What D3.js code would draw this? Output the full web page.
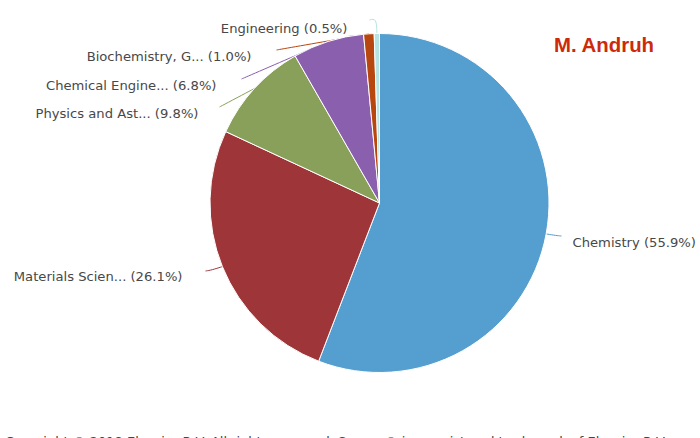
<!DOCTYPE html>
<html>
<head>
<meta charset="utf-8">
<script src="https://cdn.jsdelivr.net/npm/d3@7"></script>
<style>
  html, body { margin: 0; padding: 0; background: #fff; overflow: hidden; }
  text { font-family: "DejaVu Sans", sans-serif; }
</style>
</head>
<body>
<script>
const categories = ['Chemistry', 'Materials Scien...', 'Physics and Ast...', 'Chemical Engine...', 'Biochemistry, G...', 'Engineering'];
const shares = [55.9, 26.1, 9.8, 6.8, 1.0, 0.5];
const colors = ['#559ed0', '#9e3639', '#88a05a', '#8a5fae', '#b7470f', '#b6e3e3'];
const author = 'M. Andruh';
const copyright = 'Copyright © 2018 Elsevier B.V. All rights reserved. Scopus® is a registered trademark of Elsevier B.V.';

const width = 700, height = 438;
const cx = 379.5, cy = 203, radius = 169.5;

// where each connector ends, relative to the pie centre
const leaderEnds = [[182, 33], [-174, 68], [-160, -96], [-138, -124], [-103, -153], [-10, -183]];
// how far each connector first runs straight out of the pie before turning
const leaderBends = [0.3, 0.3, 0, 0, 0, 1];
// label offset from the connector end
const labelGaps = [[11, 6], [-23, 5], [-21, 6], [-25, 6], [-25, 6], [-22, 8]];

const svg = d3.select('body').append('svg')
  .attr('width', width)
  .attr('height', height);

const g = svg.append('g').attr('transform', `translate(${cx},${cy})`);

const slices = d3.pie().sort(null)(shares);
const arc = d3.arc().innerRadius(0).outerRadius(radius);

// connectors go first, the pie covers the part that runs across it
const leader = d3.line().curve(d3.curveBasis);
g.selectAll('path.leader')
  .data(slices)
  .join('path')
  .attr('class', 'leader')
  .attr('fill', 'none')
  .attr('stroke', (d, i) => colors[i])
  .attr('stroke-width', 1)
  .attr('d', (d, i) => {
    const mid = (d.startAngle + d.endAngle) / 2;
    const start = [radius * Math.sin(mid), -radius * Math.cos(mid)];
    const end = leaderEnds[i];
    const reach = Math.hypot(end[0] - start[0], end[1] - start[1]);
    const k = leaderBends[i];
    const out = [start[0] + Math.sin(mid) * reach, start[1] - Math.cos(mid) * reach];
    const straight = [(start[0] + end[0]) / 2, (start[1] + end[1]) / 2];
    const bend = [straight[0] + (out[0] - straight[0]) * k, straight[1] + (out[1] - straight[1]) * k];
    return leader([start, start, bend, end, end]);
  });

g.selectAll('path.slice')
  .data(slices)
  .join('path')
  .attr('class', 'slice')
  .attr('fill', (d, i) => colors[i])
  .attr('stroke', '#fff')
  .attr('stroke-width', 1)
  .attr('d', arc);

g.selectAll('text.label')
  .data(slices)
  .join('text')
  .attr('class', 'label')
  .attr('x', (d, i) => leaderEnds[i][0] + labelGaps[i][0])
  .attr('y', (d, i) => leaderEnds[i][1] + labelGaps[i][1])
  .attr('dy', '0.35em')
  .attr('text-anchor', (d, i) => labelGaps[i][0] > 0 ? 'start' : 'end')
  .attr('font-size', 13.15)
  .attr('fill', '#484848')
  .text((d, i) => `${categories[i]} (${shares[i].toFixed(1)}%)`);

svg.append('text')
  .attr('x', 554)
  .attr('y', 52)
  .attr('font-size', 20.4)
  .attr('font-weight', 'bold')
  .attr('fill', '#cc2a0a')
  .style('font-family', '"Liberation Sans", Arial, sans-serif')
  .text(author);

svg.append('text')
  .attr('x', 5)
  .attr('y', 446)
  .attr('font-size', 13)
  .attr('fill', '#444')
  .text(copyright);
</script>
</body>
</html>
